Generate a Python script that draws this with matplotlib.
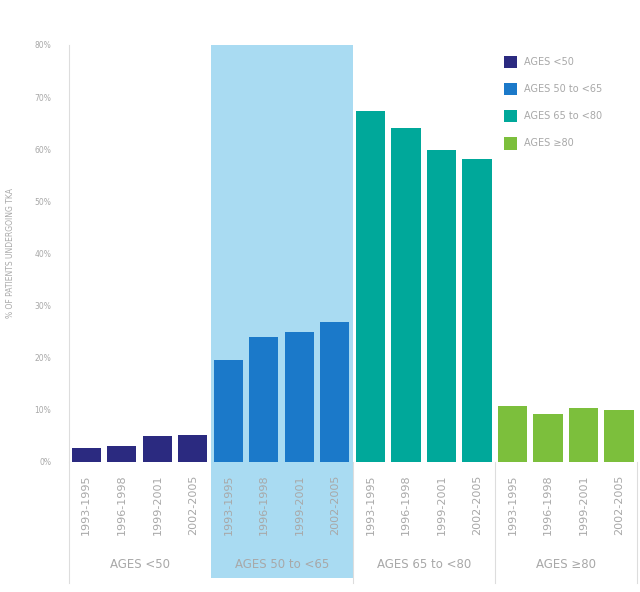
import numpy as np
import matplotlib.pyplot as plt
from matplotlib.patches import Rectangle, Patch
import matplotlib.transforms as mtransforms

# Data
periods = ["1993-1995", "1996-1998", "1999-2001", "2002-2005"]
groups = ["AGES <50", "AGES 50 to <65", "AGES 65 to <80", "AGES \u226580"]
ages_lt50 = [2.7, 3.1, 5.0, 5.2]
ages_50_65 = [19.6, 24.0, 25.0, 26.9]
ages_65_80 = [67.4, 64.1, 59.9, 58.2]
ages_ge80 = [10.7, 9.2, 10.4, 10.0]
colors = ["#2b2a80", "#1b79c9", "#00a89a", "#7cbf3c"]

series = [ages_lt50, ages_50_65, ages_65_80, ages_ge80]
txt = "#a8a8a8"

fig = plt.figure(figsize=(6.4, 5.92), dpi=100)
ax = fig.add_axes([0.106, 0.2196, 0.889, 0.7044])

# highlighted group background
blend = mtransforms.blended_transform_factory(ax.transData, ax.transAxes)
ax.add_patch(Rectangle((3.5, -0.278), 4.0, 1.278, transform=blend,
                       facecolor="#a9dbf2", edgecolor="none", clip_on=False, zorder=0))

x = 0
xt, xl = [], []
for g, vals in enumerate(series):
    pos = np.arange(len(vals)) + x
    ax.bar(pos, vals, width=0.82, color=colors[g], zorder=2)
    xt += list(pos)
    xl += periods
    ax.text(x + 1.5, -0.245, groups[g], transform=blend, ha="center", va="center",
            fontsize=8.5, color=txt)
    x += len(vals)

# group separators
for sx in [-0.5, 7.5, 11.5, 15.5]:
    ax.plot([sx, sx], [-0.29, 0], transform=blend, color="#dddddd", lw=0.8,
            clip_on=False, zorder=1)
ax.plot([-0.5, -0.5], [0, 1], transform=blend, color="#dddddd", lw=0.8, clip_on=False)

ax.set_xlim(-0.52, 15.5)
ax.set_ylim(0, 80)
ax.set_xticks(xt)
ax.set_xticklabels(xl, rotation=90, fontsize=8, color=txt, va="top")
ax.set_yticks(np.arange(0, 81, 10))
ax.set_yticklabels([f"{v}%" for v in range(0, 81, 10)], fontsize=5.5, color=txt)
ax.tick_params(length=0, pad=12)
ax.tick_params(axis="x", pad=9)
for s in ax.spines.values():
    s.set_visible(False)
ax.set_ylabel("% OF PATIENTS UNDERGOING TKA", fontsize=5.5, color=txt, labelpad=14)

handles = [Patch(facecolor=c, edgecolor="none") for c in colors]
ax.legend(handles, groups, loc="upper right", bbox_to_anchor=(0.955, 0.995), frameon=False,
          fontsize=7, labelcolor=txt, handlelength=1.4, handleheight=1.6,
          labelspacing=1.5, handletextpad=0.7)

fig.savefig("out.png", dpi=100)
